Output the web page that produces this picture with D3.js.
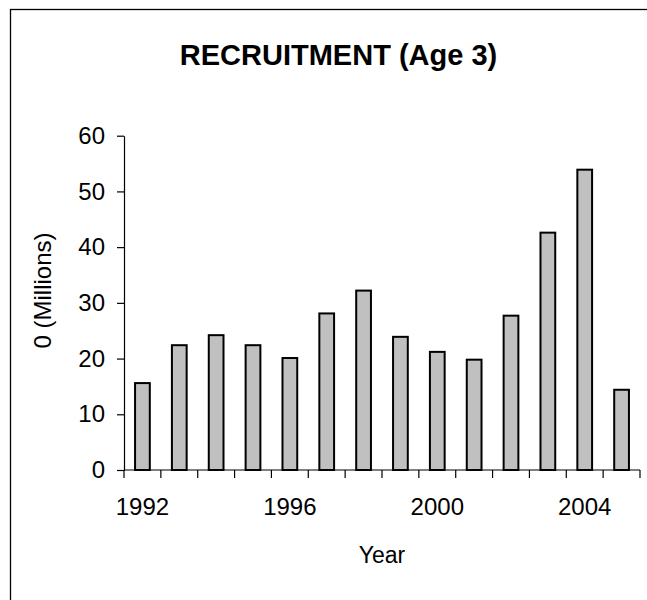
<!DOCTYPE html>
<html>
<head>
<meta charset="utf-8">
<script src="https://cdn.jsdelivr.net/npm/d3@7"></script>
<style>
  body { margin: 0; background: #fff; }
  text { font-family: "Liberation Sans", Arial, sans-serif; fill: #000; }
</style>
</head>
<body>
<svg id="chart" width="647" height="600"></svg>
<script>
// recruitment at age 3, millions
var years = [1992, 1993, 1994, 1995, 1996, 1997, 1998, 1999, 2000, 2001, 2002, 2003, 2004, 2005];
var recruits = [15.6, 22.4, 24.2, 22.4, 20.1, 28.1, 32.2, 23.9, 21.2, 19.8, 27.7, 42.6, 53.9, 14.4];
var yTicks = [0, 10, 20, 30, 40, 50, 60];
var yearLabels = [1992, 1996, 2000, 2004];

var LEFT = 124, RIGHT = 640, TOP = 135.7, BOTTOM = 470;

var svg = d3.select("#chart");

// outer frame (right and bottom run off the page)
svg.append("rect")
    .attr("x", 10.5).attr("y", 9.5)
    .attr("width", 700).attr("height", 700)
    .attr("fill", "none").attr("stroke", "#000").attr("stroke-width", 1.3);

var x = d3.scaleBand()
    .domain(years)
    .range([LEFT, RIGHT])
    .paddingInner(0.6)
    .paddingOuter(0.3);

var y = d3.scaleLinear().domain([0, 60]).range([BOTTOM, TOP]);

svg.append("text")
    .attr("x", 338.5).attr("y", 65)
    .attr("text-anchor", "middle")
    .style("font-size", "29px").style("font-weight", "bold")
    .text("RECRUITMENT (Age 3)");

// bars
svg.selectAll(".bar")
    .data(years)
    .enter().append("rect")
    .attr("class", "bar")
    .attr("x", function (d) { return x(d); })
    .attr("width", x.bandwidth())
    .attr("y", function (d, i) { return y(recruits[i]); })
    .attr("height", function (d, i) { return BOTTOM - y(recruits[i]); })
    .attr("fill", "#c0c0c0")
    .attr("stroke", "#000")
    .attr("stroke-width", 2);

// y axis
var yAxis = svg.append("g")
    .attr("transform", "translate(" + LEFT + ",0)")
    .call(d3.axisLeft(y).tickValues(yTicks).tickSize(7).tickPadding(12).tickSizeOuter(0));
yAxis.select(".domain").attr("stroke", "#000").attr("stroke-width", 1.2);
yAxis.selectAll(".tick line").attr("stroke", "#000").attr("stroke-width", 1.2);
yAxis.selectAll("text").style("font-size", "24px").attr("font-family", null);

// x axis: ticks on category boundaries, labels every 4 years
var xAxis = svg.append("g")
    .attr("transform", "translate(0," + BOTTOM + ")");
xAxis.append("line")
    .attr("x1", LEFT).attr("x2", RIGHT)
    .attr("stroke", "#000").attr("stroke-width", 1.2);
var bounds = years.map(function (d) { return x(d) - x.step() * x.paddingOuter(); }).concat([RIGHT]);
xAxis.selectAll(".bt")
    .data(bounds)
    .enter().append("line")
    .attr("class", "bt")
    .attr("x1", function (d) { return d; }).attr("x2", function (d) { return d; })
    .attr("y1", 0).attr("y2", 8)
    .attr("stroke", "#000").attr("stroke-width", 1.2);

var xLabels = svg.append("g")
    .attr("transform", "translate(0," + BOTTOM + ")")
    .call(d3.axisBottom(x).tickValues(yearLabels).tickSize(0).tickPadding(28));
xLabels.select(".domain").remove();
xLabels.selectAll("text").style("font-size", "24px").attr("font-family", null);

svg.append("text")
    .attr("x", (LEFT + RIGHT) / 2).attr("y", 563)
    .attr("text-anchor", "middle")
    .style("font-size", "23px")
    .text("Year");

svg.append("text")
    .attr("transform", "translate(51,290.5) rotate(-90)")
    .attr("text-anchor", "middle")
    .style("font-size", "24px")
    .text("0 (Millions)");
</script>
</body>
</html>
